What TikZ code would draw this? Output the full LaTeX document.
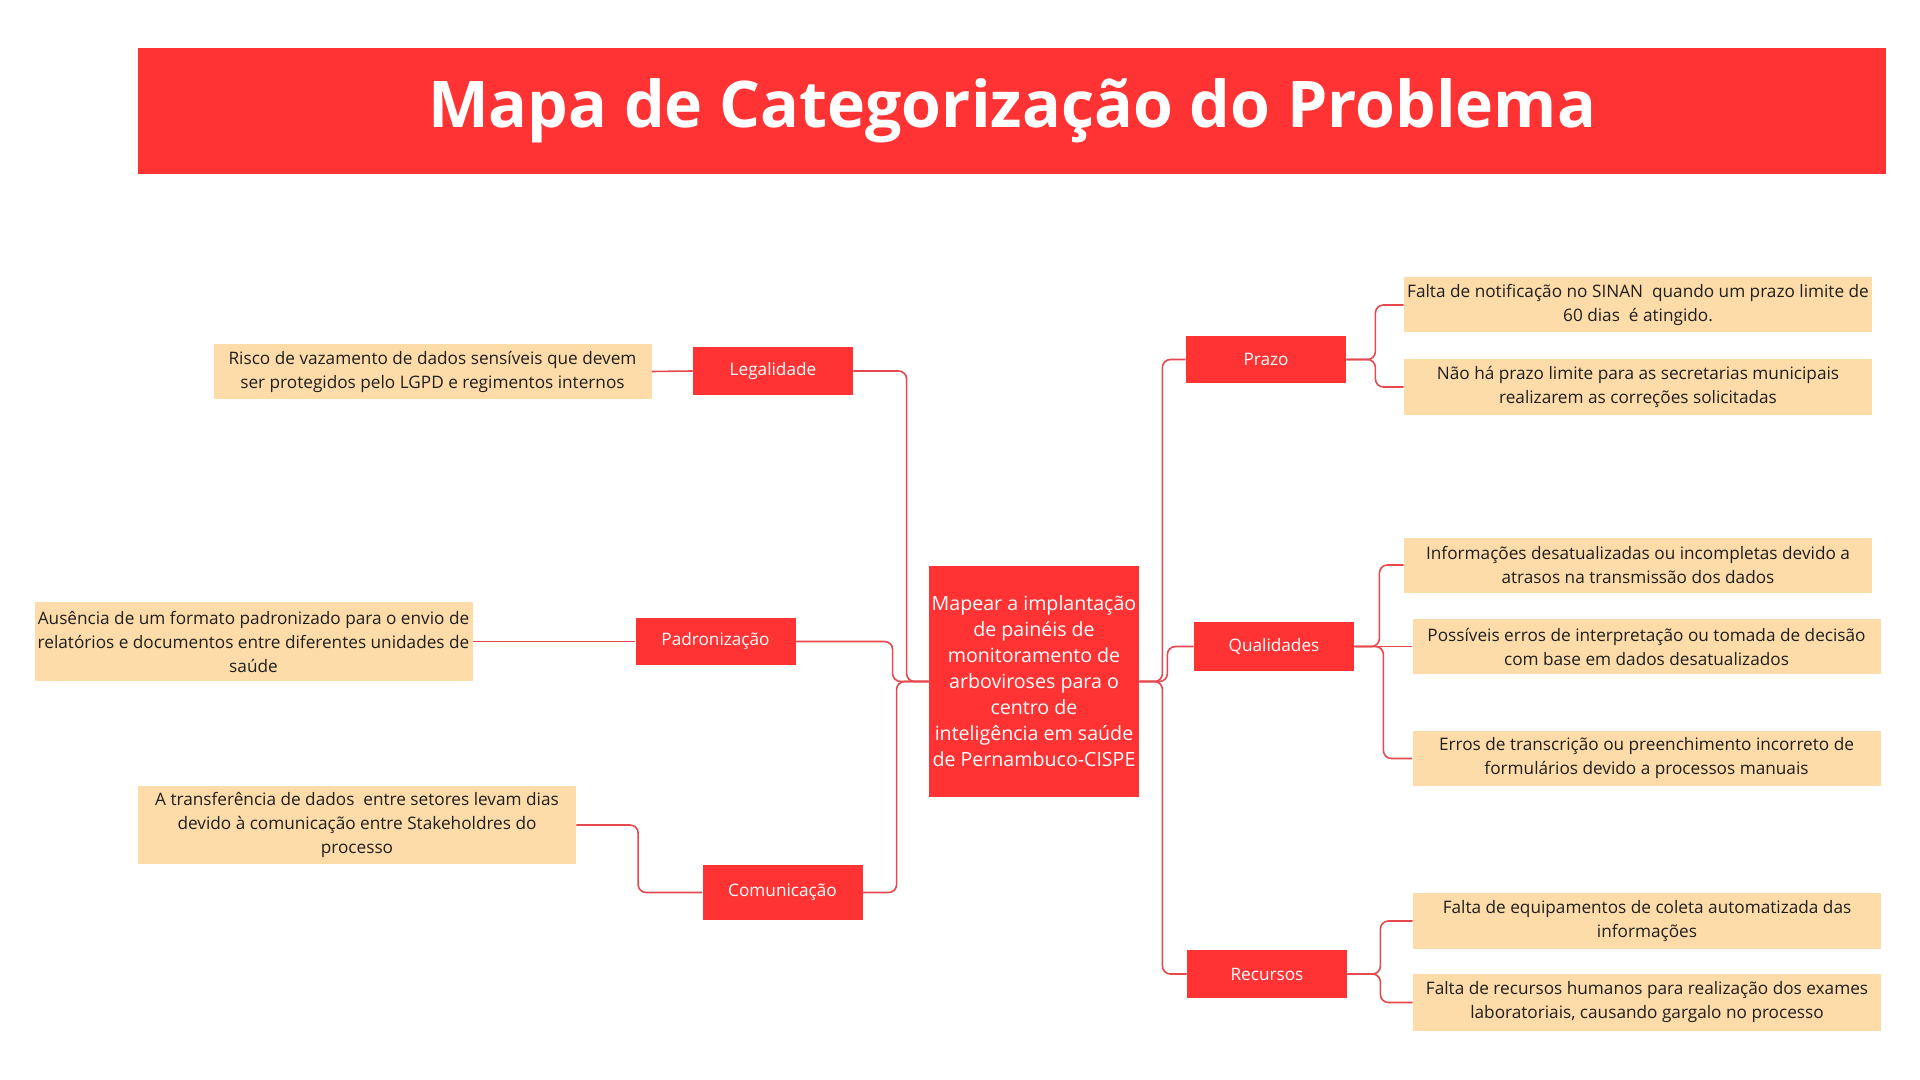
\documentclass[tikz,border=0pt]{standalone}
\usepackage{fontspec}
\setmainfont{Open Sans}
\definecolor{mapred}{HTML}{FF3333}
\definecolor{mapsand}{HTML}{FDDCA9}
\definecolor{maplink}{HTML}{E5484D}
\begin{document}
\begin{tikzpicture}[x=0.5pt,y=-0.5pt,
        cat/.style={fill=mapred,text=white,minimum width=80pt,minimum height=24pt,inner sep=0pt,font=\fontsize{8.6}{10}\selectfont},
        leaf/.style={fill=mapsand,text=black!88,minimum width=219pt,minimum height=27.5pt,align=center,inner sep=0pt,font=\fontsize{8.6}{12}\selectfont},
        rleaf/.style={leaf,minimum width=234pt},
        link/.style={draw=maplink,line width=0.8pt,rounded corners=4pt}]
        \useasboundingbox (0,0) rectangle (1920,1080);
        \node[fill=mapred,minimum width=874pt,minimum height=63pt,inner sep=0pt,text=white,font=\bfseries\fontsize{32.2}{34}\selectfont] (title) at (1012,111) {\raisebox{-3.3pt}{Mapa de Categorização do Problema}};
        \node[cat,minimum width=105pt,minimum height=115.5pt,align=center,font=\fontsize{9.8}{13}\selectfont] (mid) at (1034,681.5) {Mapear a implantação\\de painéis de\\monitoramento de\\arboviroses para o\\centro de\\inteligência em saúde\\de Pernambuco-CISPE};
        \node[cat] (leg) at (773,371) {Legalidade};
        \node[cat,minimum height=23.5pt] (pad) at (715.5,641.5) {Padronização};
        \node[cat,minimum height=27.5pt] (com) at (782.5,892.5) {Comunicação};
        \node[cat,minimum height=23.5pt] (praz) at (1266,359.5) {Prazo};
        \node[cat,minimum height=24.5pt] (qual) at (1274,646.5) {Qualidades};
        \node[cat] (rec) at (1267,974) {Recursos};
        \node[leaf] (risco) at (432.5,371.5) {Risco de vazamento de dados sensíveis que devem\\ser protegidos pelo LGPD e regimentos internos};
        \node[leaf,minimum height=39.5pt] (formato) at (253.5,641.5) {Ausência de um formato padronizado para o envio de\\relatórios e documentos entre diferentes unidades de\\saúde};
        \node[leaf,minimum height=39pt] (transf) at (357,825) {A transferência de dados\ \ entre setores levam dias\\devido à comunicação entre Stakeholdres do\\processo};
        \node[rleaf] (sinan) at (1638,305) {Falta de notificação no SINAN\ \ quando um prazo limite de\\60 dias\ \ é atingido.};
        \node[rleaf] (correc) at (1638,387) {Não há prazo limite para as secretarias municipais\\realizarem as correções solicitadas};
        \node[rleaf] (info) at (1638,565) {Informações desatualizadas ou incompletas devido a\\atrasos na transmissão dos dados};
        \node[rleaf] (interp) at (1646.5,646.5) {Possíveis erros de interpretação ou tomada de decisão\\com base em dados desatualizados};
        \node[rleaf] (transc) at (1646.5,758.5) {Erros de transcrição ou preenchimento incorreto de\\formulários devido a processos manuais};
        \node[rleaf,minimum height=28pt] (equip) at (1647,921) {Falta de equipamentos de coleta automatizada das\\informações};
        \node[rleaf,minimum height=28.5pt] (rh) at (1647,1002.5) {Falta de recursos humanos para realização dos exames\\laboratoriais, causando gargalo no processo};
        \draw[link] (leg.west) -- (risco.east);
        \draw[link] (pad.west) -- (formato.east);
        \draw[link] (com.west) -- ++(-64,0) |- (transf.east);
        \draw[link] (leg.east) -| ([xshift=-11pt]mid.west) -- (mid.west);
        \draw[link] (pad.east) -| ([xshift=-18pt]mid.west) -- (mid.west);
        \draw[link] (com.east) -| ([xshift=-16pt]mid.west) -- (mid.west);
        \draw[link] (mid.east) -- ([xshift=11.5pt]mid.east) |- (praz.west);
        \draw[link] (mid.east) -- ([xshift=14pt]mid.east) |- (qual.west);
        \draw[link] (mid.east) -- ([xshift=11.5pt]mid.east) |- (rec.west);
        \draw[link] (praz.east) -- ([xshift=14.5pt]praz.east) |- (sinan.west);
        \draw[link] (praz.east) -- ([xshift=14.5pt]praz.east) |- (correc.west);
        \draw[link] (qual.east) -- ([xshift=12.5pt]qual.east) |- (info.west);
        \draw[link] (qual.east) -- (interp.west);
        \draw[link] (qual.east) -- ([xshift=14.5pt]qual.east) |- (transc.west);
        \draw[link] (rec.east) -- ([xshift=16.5pt]rec.east) |- (equip.west);
        \draw[link] (rec.east) -- ([xshift=16.5pt]rec.east) |- (rh.west);
\end{tikzpicture}
\end{document}
